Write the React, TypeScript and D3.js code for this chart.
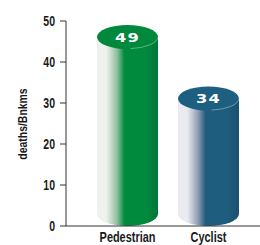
import React from 'react';
import * as d3 from 'd3';

const categories = ['Pedestrian', 'Cyclist'];
const values = [49, 34];
const yTicks = [0, 10, 20, 30, 40, 50];
const yLabel = 'deaths/Bnkms';

const W = 260;
const H = 245;
const FONT = "'Liberation Sans', Arial, sans-serif";

const palettes = [
  { id: 'gPed', top: '#00893d', light: '#edf2ec', mid: '#8fbf9c', main: '#008a3e', dark: '#00763a' },
  { id: 'gCyc', top: '#1d5f80', light: '#eceaf1', mid: '#8d9cb2', main: '#1f5d7e', dark: '#1b5170' },
];

const App = () => {
  const axisX = 66;
  const y = d3.scaleLinear().domain([0, 50]).range([226, 21]);
  const x = d3.scaleBand<string>().domain(categories).range([97, 239]).paddingInner(0.247).paddingOuter(0);
  const bw = x.bandwidth();
  const ry = 12;

  return (
    <svg width={W} height={H} style={{ position: 'absolute', left: 0, top: 0 }}>
      <defs>
        {palettes.map(p => (
          <linearGradient key={p.id} id={p.id} x1="0" x2="1" y1="0" y2="0">
            <stop offset="0%" stopColor={p.light} />
            <stop offset="15%" stopColor={p.light} stopOpacity={0.95} />
            <stop offset="33%" stopColor={p.mid} />
            <stop offset="45%" stopColor={p.main} />
            <stop offset="80%" stopColor={p.main} />
            <stop offset="100%" stopColor={p.dark} />
          </linearGradient>
        ))}
      </defs>

      {/* y axis */}
      <line x1={axisX} x2={axisX} y1={y(50)} y2={y(0)} stroke="#333" strokeWidth={1} />
      {yTicks.map(t => (
        <g key={t}>
          <line x1={axisX - 6} x2={axisX} y1={y(t)} y2={y(t)} stroke="#333" strokeWidth={1} />
          <text transform={`translate(${axisX - 11},${y(t)}) scale(0.75,1)`} dy="0.36em" textAnchor="end"
            fontFamily={FONT} fontWeight="bold" fontSize={14} fill="#1a1a1a">{t}</text>
        </g>
      ))}
      <text transform={`translate(27,124) rotate(-90) scale(0.87,1)`} textAnchor="middle" fontFamily={FONT}
        fontWeight="bold" fontSize={12} fill="#1a1a1a">{yLabel}</text>

      {/* bars */}
      {categories.map((c, i) => {
        const x0 = x(c) as number;
        const cx = x0 + bw / 2;
        const topCy = y(values[i]) + ry;
        const botCy = y(0) - ry;
        const p = palettes[i];
        const body = `M${x0},${topCy} L${x0},${botCy} A${bw / 2},${ry} 0 0 0 ${x0 + bw},${botCy} L${x0 + bw},${topCy} Z`;
        return (
          <g key={c}>
            <path d={body} fill={`url(#${p.id})`} />
            <ellipse cx={cx} cy={topCy} rx={bw / 2} ry={ry} fill={p.top} />
            <path d={`M${x0 + bw * 0.55},${topCy + ry - 0.5} A${bw / 2},${ry} 0 0 0 ${x0 + bw},${topCy}`}
              fill="none" stroke="#ffffff" strokeOpacity={0.35} strokeWidth={1} />
            <text transform={`translate(${cx},${topCy}) scale(1.25,1)`} dy="0.36em" textAnchor="middle"
              fontFamily="'DejaVu Sans', sans-serif" fontWeight="bold" fontSize={13} letterSpacing={1}
              fill="#ffffff">{values[i]}</text>
          </g>
        );
      })}

      {/* x axis */}
      <line x1={axisX} x2={W} y1={y(0)} y2={y(0)} stroke="#333" strokeWidth={1} />
      {categories.map(c => (
        <text key={c} transform={`translate(${(x(c) as number) + bw / 2},242) scale(0.78,1)`} textAnchor="middle"
          fontFamily={FONT} fontWeight="bold" fontSize={14} fill="#1a1a1a">{c}</text>
      ))}
    </svg>
  );
};

export default App;
